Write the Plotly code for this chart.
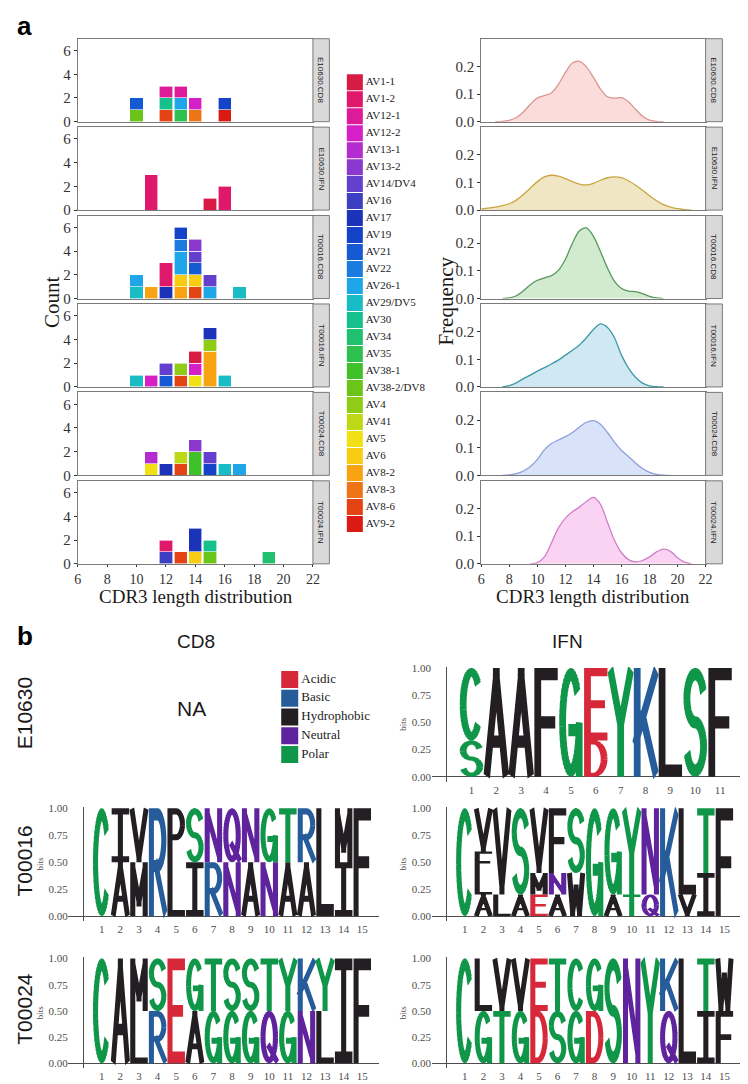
import math
from collections import Counter

import plotly.graph_objects as go

W, H = 748, 1084
SERIF = "Liberation Serif"
SANS = "Liberation Sans"

# ---------------- part a: V gene usage vs CDR3 length ----------------
genes = ["AV1-1", "AV1-2", "AV12-1", "AV12-2", "AV13-1", "AV13-2", "AV14/DV4", "AV16", "AV17",
         "AV19", "AV21", "AV22", "AV26-1", "AV29/DV5", "AV30", "AV34", "AV35", "AV38-1",
         "AV38-2/DV8", "AV4", "AV41", "AV5", "AV6", "AV8-2", "AV8-3", "AV8-6", "AV9-2"]
gene_colors = ["#d81b45", "#e0186c", "#dd1a98", "#d61fc6", "#b42cd0", "#8a38d0", "#623fcc",
               "#3d3fc2", "#1b33b8", "#1443c8", "#165ad3", "#1c7bdf", "#1ea6e8", "#17bcc4",
               "#15c08c", "#20c06e", "#2ec150", "#40c12a", "#6ac41a", "#8fcc15", "#bfd815",
               "#f0e014", "#f8cc10", "#f8a412", "#ee7416", "#e44414", "#dc1a14"]
samples = ["E10630.CD8", "E10630.IFN", "T00016.CD8", "T00016.IFN", "T00024.CD8", "T00024.IFN"]

# one entry per clonotype: CDR3 length and V gene
e10630_cd8_len = [10, 10, 12, 12, 12, 13, 13, 13, 14, 14, 16, 16]
e10630_cd8_gene = ["AV38-2/DV8", "AV21", "AV8-6", "AV30", "AV12-1", "AV35", "AV26-1", "AV12-1",
                   "AV8-3", "AV12-2", "AV9-2", "AV19"]
e10630_ifn_len = [11, 11, 11, 15, 16, 16]
e10630_ifn_gene = ["AV1-2", "AV1-2", "AV1-2", "AV1-1", "AV1-2", "AV1-2"]
t00016_cd8_len = [10, 10, 11, 12, 12, 12, 13, 13, 13, 13, 13, 13, 14, 14, 14, 14, 14, 15, 15, 17]
t00016_cd8_gene = ["AV29/DV5", "AV26-1", "AV8-2", "AV17", "AV1-2", "AV1-2", "AV8-2", "AV6",
                   "AV26-1", "AV26-1", "AV22", "AV19", "AV8-6", "AV6", "AV21", "AV14/DV4",
                   "AV13-2", "AV26-1", "AV14/DV4", "AV29/DV5"]
t00016_ifn_len = [10, 11, 12, 12, 13, 13, 14, 14, 14, 15, 15, 15, 15, 15, 16]
t00016_ifn_gene = ["AV29/DV5", "AV12-2", "AV21", "AV14/DV4", "AV8-6", "AV4", "AV5", "AV12-2",
                   "AV1-1", "AV8-2", "AV8-2", "AV8-2", "AV4", "AV17", "AV29/DV5"]
t00024_cd8_len = [11, 11, 12, 13, 13, 14, 14, 14, 15, 15, 16, 17]
t00024_cd8_gene = ["AV5", "AV13-1", "AV17", "AV8-6", "AV41", "AV38-1", "AV38-1", "AV13-2",
                   "AV19", "AV14/DV4", "AV29/DV5", "AV26-1"]
t00024_ifn_len = [12, 12, 13, 14, 14, 14, 15, 15, 19]
t00024_ifn_gene = ["AV16", "AV1-2", "AV8-6", "AV6", "AV17", "AV17", "AV38-2/DV8", "AV30", "AV34"]

hist_len = [e10630_cd8_len, e10630_ifn_len, t00016_cd8_len, t00016_ifn_len, t00024_cd8_len, t00024_ifn_len]
hist_gene = [e10630_cd8_gene, e10630_ifn_gene, t00016_cd8_gene, t00016_ifn_gene, t00024_cd8_gene, t00024_ifn_gene]

# density of CDR3 length
dens_x = [6, 6.5, 7, 7.5, 8, 8.5, 9, 9.5, 10, 10.5, 11, 11.5, 12, 12.5, 13, 13.5, 14, 14.5,
          15, 15.5, 16, 16.5, 17, 17.5, 18, 18.5, 19, 19.5, 20, 20.5, 21, 21.5, 22]
dens_e10630_cd8 = [0, 0, 0, 0.001, 0.005, 0.015, 0.035, 0.063, 0.086, 0.094, 0.104, 0.135, 0.178,
                   0.212, 0.218, 0.198, 0.16, 0.118, 0.09, 0.085, 0.087, 0.072, 0.045, 0.02, 0.006,
                   0.001, 0, 0, 0, 0, 0, 0, 0]
dens_e10630_ifn = [0.004, 0.007, 0.011, 0.016, 0.023, 0.036, 0.056, 0.08, 0.103, 0.12, 0.126, 0.123,
                   0.114, 0.103, 0.094, 0.091, 0.097, 0.108, 0.117, 0.12, 0.117, 0.106, 0.09, 0.072,
                   0.052, 0.034, 0.02, 0.011, 0.005, 0.002, 0, 0, 0]
dens_t00016_cd8 = [0, 0, 0, 0, 0.002, 0.01, 0.028, 0.05, 0.066, 0.075, 0.083, 0.102, 0.142, 0.2,
                   0.245, 0.255, 0.225, 0.17, 0.11, 0.062, 0.036, 0.027, 0.025, 0.018, 0.008, 0.002,
                   0, 0, 0, 0, 0, 0, 0]
dens_t00016_ifn = [0, 0, 0, 0, 0.005, 0.015, 0.03, 0.043, 0.057, 0.07, 0.083, 0.097, 0.115, 0.133,
                   0.152, 0.178, 0.208, 0.228, 0.215, 0.178, 0.115, 0.068, 0.035, 0.014, 0.004,
                   0.001, 0, 0, 0, 0, 0, 0, 0]
dens_t00024_cd8 = [0, 0, 0, 0, 0.002, 0.006, 0.016, 0.032, 0.058, 0.092, 0.115, 0.128, 0.14, 0.155,
                   0.175, 0.192, 0.198, 0.185, 0.155, 0.12, 0.09, 0.068, 0.045, 0.025, 0.011, 0.004,
                   0.001, 0, 0, 0, 0, 0, 0]
dens_t00024_ifn = [0, 0, 0, 0, 0, 0, 0, 0, 0.004, 0.025, 0.075, 0.13, 0.165, 0.188, 0.205, 0.225,
                   0.24, 0.215, 0.15, 0.085, 0.04, 0.015, 0.007, 0.012, 0.025, 0.043, 0.053, 0.045,
                   0.022, 0.006, 0, 0, 0]
dens_y = [dens_e10630_cd8, dens_e10630_ifn, dens_t00016_cd8, dens_t00016_ifn, dens_t00024_cd8, dens_t00024_ifn]
dens_fill = ["#fcdcda", "#f1e6c4", "#d2ead0", "#cfe8f2", "#d8e2f8", "#fad3f3"]
dens_line = ["#d9958f", "#c9a640", "#55985a", "#3e9aa6", "#8e9fdc", "#d17fcb"]

# ---------------- part b: CDR3 sequence logos ----------------
chem_names = ["Acidic", "Basic", "Hydrophobic", "Neutral", "Polar"]
chem_colors = ["#d62839", "#255c99", "#221e22", "#5e239d", "#109648"]
chem_letters = ["DE", "KRH", "AVLIPWFM", "QN", "GSTYC"]

# letters per position, bottom -> top, with their heights
e10630_ifn_seq = ["SC", "A", "A", "F", "G", "DE", "Y", "K", "L", "S", "F"]
e10630_ifn_h = [[1/3, 2/3], [1], [1], [1], [1], [1/3, 2/3], [1], [1], [1], [1], [1]]
t00016_cd8_seq = ["C", "AI", "MV", "R", "LP", "IS", "RN", "NQ", "AN", "NG", "AT", "AR", "L", "IM", "F"]
t00016_cd8_h = [[1], [.5, .5], [.5, .5], [1], [.5, .5], [.5, .5], [.5, .5], [.5, .5], [.5, .5],
                [.5, .5], [.5, .5], [.5, .5], [1], [.5, .5], [1]]
t00016_ifn_seq = ["C", "ALFV", "LV", "AS", "EMV", "ANF", "WS", "G", "AG", "TY", "QN", "K", "VL", "IT", "F"]
t00016_ifn_h = [[1], [.2, .2, .2, .4], [.2, .8], [.2, .8], [.2, .2, .6], [.2, .2, .6], [.4, .6], [1],
                [.2, .8], [.2, .8], [.2, .8], [1], [.2, .8], [.4, .6], [1]]
t00024_cd8_seq = ["C", "A", "LM", "RS", "E", "AG", "GT", "GS", "GS", "QT", "GY", "NK", "LY", "I", "F"]
t00024_cd8_h = [[1], [1], [.5, .5], [.5, .5], [1], [.5, .5], [.5, .5], [.5, .5], [.5, .5], [.5, .5],
                [.5, .5], [.5, .5], [.5, .5], [1], [1]]
t00024_ifn_seq = ["C", "GL", "TV", "GV", "DE", "ST", "GC", "DG", "S", "N", "Y", "QK", "L", "IT", "FW"]
t00024_ifn_h = [[1], [.5, .5], [.5, .5], [.5, .5], [.5, .5], [.5, .5], [.5, .5], [.5, .5], [1], [1],
                [1], [.5, .5], [1], [.5, .5], [.5, .5]]


def arc(cx, cy, rx, ry, a0, a1, n=40):
    pts = []
    for k in range(n + 1):
        a = math.radians(a0 + (a1 - a0) * k / n)
        pts.append((cx + rx * math.cos(a), cy + ry * math.sin(a)))
    return pts


# block-letter skeletons in a unit box; strokes get thickened below
GLYPHS = {
    "A": [[(0, 0), (0.5, 1), (1, 0)], [(0.22, 0.3), (0.78, 0.3)]],
    "C": [arc(0.5, 0.5, 0.5, 0.5, 38, 322)],
    "D": [[(0.4, 1), (0, 1), (0, 0), (0.4, 0)] + arc(0.4, 0.5, 0.6, 0.5, -90, 90)[1:]],
    "E": [[(1, 1), (0, 1), (0, 0), (1, 0)], [(0, 0.5), (0.85, 0.5)]],
    "F": [[(1, 1), (0, 1), (0, 0)], [(0, 0.5), (0.85, 0.5)]],
    "G": [arc(0.5, 0.5, 0.5, 0.5, 38, 360), [(0.55, 0.42), (1, 0.42), (1, 0)]],
    "I": [[(0, 1), (1, 1)], [(0.5, 1), (0.5, 0)], [(0, 0), (1, 0)]],
    "K": [[(0, 0), (0, 1)], [(1, 1), (0, 0.3)], [(0.38, 0.58), (1, 0)]],
    "L": [[(0, 1), (0, 0), (1, 0)]],
    "M": [[(0, 0), (0, 1), (0.5, 0.2), (1, 1), (1, 0)]],
    "N": [[(0, 0), (0, 1), (1, 0), (1, 1)]],
    "P": [[(0, 0), (0, 1), (0.5, 1)] + arc(0.5, 0.73, 0.5, 0.27, 90, -90)[1:] + [(0, 0.46)]],
    "Q": [arc(0.5, 0.5, 0.5, 0.5, 0, 370, 48), [(0.55, 0.3), (1, 0)]],
    "R": [[(0, 0), (0, 1), (0.5, 1)] + arc(0.5, 0.73, 0.5, 0.27, 90, -90)[1:] + [(0, 0.46)],
          [(0.45, 0.46), (1, 0)]],
    "S": [arc(0.5, 0.75, 0.5, 0.25, 15, 270) + arc(0.5, 0.25, 0.5, 0.25, 90, -165)[1:]],
    "T": [[(0, 1), (1, 1)], [(0.5, 1), (0.5, 0)]],
    "V": [[(0, 1), (0.5, 0), (1, 1)]],
    "W": [[(0, 1), (0.22, 0), (0.5, 0.7), (0.78, 0), (1, 1)]],
    "Y": [[(0, 1), (0.5, 0.45), (1, 1)], [(0.5, 0.45), (0.5, 0)]],
}
HX, HY = 0.145, 0.056
LW = 0.94


def glyph_polys(letter):
    """Thickened strokes as counter-clockwise quads (filled with the nonzero rule)."""
    polys = []
    for stroke in GLYPHS[letter]:
        pts = [(HX + u * (1 - 2 * HX), HY + v * (1 - 2 * HY)) for u, v in stroke]
        n = len(pts)
        for k in range(n - 1):
            (x0, y0), (x1, y1) = pts[k], pts[k + 1]
            dx, dy = x1 - x0, y1 - y0
            ln = math.hypot(dx, dy)
            if ln == 0:
                continue
            dx, dy = dx / ln, dy / ln
            if k == 0:
                e0 = 1.0 if ln > 0.15 else 0.0
            else:
                e0 = 0.35
            if k == n - 2:
                e1 = 1.0 if ln > 0.15 else 0.0
            else:
                e1 = 0.35
            ax, ay = x0 - dx * HX * e0, y0 - dy * HY * e0
            bx, by = x1 + dx * HX * e1, y1 + dy * HY * e1
            nx, ny = -dy * HX, dx * HY
            polys.append([(ax - nx, ay - ny), (bx - nx, by - ny), (bx + nx, by + ny), (ax + nx, ay + ny)])
        for k in range(1, n - 1):
            (xa, ya), (xb, yb), (xc, yc) = pts[k - 1], pts[k], pts[k + 1]
            t1 = math.atan2(yb - ya, xb - xa)
            t2 = math.atan2(yc - yb, xc - xb)
            turn = abs((t2 - t1 + math.pi) % (2 * math.pi) - math.pi)
            if turn > math.radians(30):
                polys.append([(xb - HX, yb - HY), (xb + HX, yb - HY), (xb + HX, yb + HY), (xb - HX, yb + HY)])
    return polys


fig = go.Figure()
layout = {}
shapes = []
annotations = []
n_axes = [0]


def new_axes(xdom, ydom, xrange, yrange, xopts=None, yopts=None):
    n_axes[0] += 1
    s = "" if n_axes[0] == 1 else str(n_axes[0])
    xa = dict(domain=[xdom[0] / W, xdom[1] / W], range=xrange, anchor="y" + s,
              showgrid=False, zeroline=False, fixedrange=True)
    ya = dict(domain=[1 - ydom[1] / H, 1 - ydom[0] / H], range=yrange, anchor="x" + s,
              showgrid=False, zeroline=False, fixedrange=True)
    xa.update(xopts or {})
    ya.update(yopts or {})
    layout["xaxis" + s] = xa
    layout["yaxis" + s] = ya
    return "x" + s, "y" + s


def text(x, y, t, size, family=SERIF, angle=0, color="#1a1a1a", xanchor="center", bold=False):
    annotations.append(dict(x=x / W, y=1 - y / H, xref="paper", yref="paper", text=f"<b>{t}</b>" if bold else t,
                            showarrow=False, textangle=angle, xanchor=xanchor, yanchor="middle",
                            font=dict(family=family, size=size, color=color)))


panel_top, period, panel_h = 26, 89.5, 84
frame = dict(showline=True, mirror=True, linecolor="#7a7a7a", linewidth=1)
tick_font = dict(family=SERIF, size=15, color="#333333")

for k, name in enumerate(samples):
    top = panel_top + k * period
    last = k == len(samples) - 1
    xopts = dict(frame, tickvals=list(range(6, 23, 2)), showticklabels=last,
                 ticks="outside" if last else "", ticklen=2, tickcolor="#333333",
                 tickfont=dict(family=SERIF, size=14, color="#333333"))

    # histogram of CDR3 length, stacked by V gene
    xa, ya = new_axes((67.7, 306), (top, top + panel_h), [6, 22], [0, 7], xopts,
                      dict(frame, tickvals=[0, 2, 4, 6], ticks="outside", ticklen=3,
                           tickcolor="#333333", tickfont=tick_font))
    counts = Counter(zip(hist_gene[k], hist_len[k]))
    for g, c in reversed(list(zip(genes, gene_colors))):
        xs = sorted(L for (gg, L) in counts if gg == g)
        if not xs:
            continue
        fig.add_trace(go.Bar(x=xs, y=[counts[(g, L)] for L in xs], width=0.9, xaxis=xa, yaxis=ya,
                             marker=dict(color=c, line=dict(color="white", width=0.6)),
                             showlegend=False, hoverinfo="skip"))

    # density curve
    xa, ya = new_axes((476.7, 704), (top, top + panel_h), [6, 22], [0, 0.3], xopts,
                      dict(frame, tickvals=[0, 0.1, 0.2], ticktext=["0.0", "0.1", "0.2"],
                           ticks="outside", ticklen=3, tickcolor="#333333", tickfont=tick_font))
    ys = dens_y[k]
    nz = [i for i, v in enumerate(ys) if v > 0]
    i0, i1 = max(nz[0] - 1, 0), min(nz[-1] + 1, len(ys) - 1)
    fig.add_trace(go.Scatter(x=dens_x[i0:i1 + 1], y=ys[i0:i1 + 1], xaxis=xa, yaxis=ya, mode="lines",
                             line=dict(color=dens_line[k], width=1.3, shape="spline", smoothing=0.8),
                             fill="tozeroy", fillcolor=dens_fill[k], showlegend=False, hoverinfo="skip"))

    # facet strips
    for x0, x1 in ((306, 322.7), (704, 721)):
        shapes.append(dict(type="rect", xref="paper", yref="paper", x0=x0 / W, x1=x1 / W,
                           y0=1 - (top + panel_h) / H, y1=1 - top / H,
                           fillcolor="#d9d9d9", line=dict(color="#7a7a7a", width=1)))
        text((x0 + x1) / 2, top + panel_h / 2, name, 8, SANS, angle=90)

# V gene legend
xa, ya = new_axes((330, 440), (60, 528), [0, 110], [(528 - 70) / 17.2, (60 - 70) / 17.2],
                  dict(visible=False), dict(visible=False))
fig.add_trace(go.Scatter(x=[18.5] * len(genes), y=list(range(len(genes))), xaxis=xa, yaxis=ya,
                         mode="markers+text", text=genes, textposition="middle right",
                         textfont=dict(family=SERIF, size=11, color="#1a1a1a"),
                         marker=dict(symbol="square", size=16, color=gene_colors, line=dict(width=0)),
                         showlegend=False, hoverinfo="skip"))

text(42, 292, "Count", 21, angle=-90)
text(441, 292, "Frequency", 21, angle=-90)
text(187, 591, "CDR3 length distribution", 19)
text(590, 591, "CDR3 length distribution", 19)
text(4, 13, "a", 26, SANS, xanchor="left", bold=True, color="#000000")


# ---------------- part b layout ----------------
def add_logo(seq, heights, xdom, pos1, step, ybase, yone, yline):
    unit = ybase - yone
    xr = [1 + (xdom[0] - pos1) / step, 1 + (xdom[1] - pos1) / step]
    xa, ya = new_axes(xdom, (yone - 0.01 * unit, ybase + 0.045 * unit), xr, [-0.045, 1.01],
                      dict(tickvals=list(range(1, len(seq) + 1)), ticks="",
                           tickfont=dict(family=SERIF, size=11, color="#4d4d4d")),
                      dict(anchor="free", position=yline / W, showline=True, linecolor="#4d4d4d", linewidth=1,
                           zeroline=True, zerolinecolor="#4d4d4d", zerolinewidth=1,
                           tickvals=[0, 0.25, 0.5, 0.75, 1], ticktext=["0.00", "0.25", "0.50", "0.75", "1.00"],
                           ticks="outside", ticklen=13, tickcolor="rgba(0,0,0,0)",
                           tickfont=dict(family=SERIF, size=11, color="#4d4d4d"),
                           title=dict(text="bits", font=dict(family=SERIF, size=9, color="#4d4d4d"), standoff=2)))
    paths = {c: [] for c in chem_colors}
    for p, (letters, hs) in enumerate(zip(seq, heights), start=1):
        bottom = 0
        for letter, h in zip(letters, hs):
            col = next(c for c, s in zip(chem_colors, chem_letters) if letter in s)
            for poly in glyph_polys(letter):
                pts = [f"{p - LW / 2 + u * LW:.4f},{bottom + v * h:.4f}" for u, v in poly]
                paths[col].append("M" + "L".join(pts) + "Z")
            bottom += h
    for col, segs in paths.items():
        if segs:
            shapes.append(dict(type="path", xref=xa, yref=ya, path="".join(segs), fillcolor=col,
                               fillrule="nonzero", line=dict(width=0), layer="above"))


add_logo(e10630_ifn_seq, e10630_ifn_h, (427, 746), 466.7, 25.2, 773, 663, 441)
add_logo(t00016_cd8_seq, t00016_cd8_h, (58, 373), 92, 18.86, 914, 805, 73)
add_logo(t00016_ifn_seq, t00016_ifn_h, (427, 746), 460, 18.79, 914, 805, 441)
add_logo(t00024_cd8_seq, t00024_cd8_h, (58, 373), 92, 18.86, 1063, 957, 73)
add_logo(t00024_ifn_seq, t00024_ifn_h, (427, 746), 460, 18.79, 1063, 957, 441)

# chemistry legend
xa, ya = new_axes((270, 380), (664, 761), [0, 110], [(761 - 674.5) / 19, (664 - 674.5) / 19],
                  dict(visible=False), dict(visible=False))
fig.add_trace(go.Scatter(x=[12.5] * len(chem_names), y=list(range(len(chem_names))), xaxis=xa, yaxis=ya,
                         mode="markers+text", text=chem_names, textposition="middle right",
                         textfont=dict(family=SERIF, size=13, color="#1a1a1a"),
                         marker=dict(symbol="square", size=17, color=chem_colors, line=dict(width=0)),
                         showlegend=False, hoverinfo="skip"))

text(4, 631, "b", 26, SANS, xanchor="left", bold=True, color="#000000")
text(187, 636, "CD8", 19, SANS)
text(564, 636, "IFN", 19, SANS)
text(183, 704, "NA", 21, SANS)
text(14, 709, "E10630", 21, SANS, angle=-90)
text(14, 858, "T00016", 21, SANS, angle=-90)
text(14, 1008, "T00024", 21, SANS, angle=-90)

layout.update(width=W, height=H, margin=dict(l=0, r=0, t=0, b=0), barmode="stack",
              paper_bgcolor="white", plot_bgcolor="white", showlegend=False,
              shapes=shapes, annotations=annotations)
fig.update_layout(**layout)
fig.write_html("out.html")
